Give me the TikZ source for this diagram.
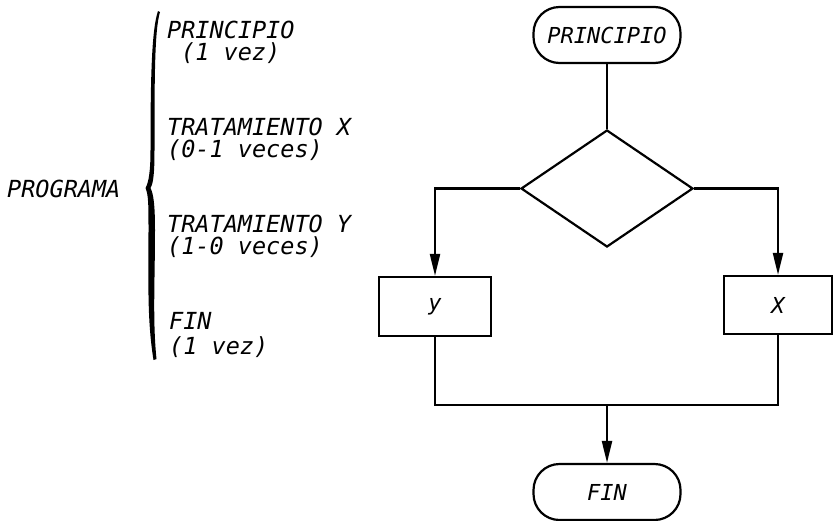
\documentclass[tikz,border=0pt]{standalone}
\usepackage{fontspec}
\newfontfamily\hand{DejaVu Sans Mono}
\usetikzlibrary{shapes.geometric,arrows.meta}
\tikzset{
  lw/.style={line width=2.2pt},
  lefttxt/.style={anchor=base west,inner sep=0pt,text height=16.5pt,text depth=3pt,font=\hand\itshape\fontsize{23.5}{26}\selectfont},
  term/.style={draw,lw,rectangle,rounded corners=26pt,minimum width=147pt,minimum height=56pt,inner sep=0pt,font=\hand\itshape\fontsize{22}{24}\selectfont},
  procbox/.style={draw,lw,rectangle,inner sep=0pt,font=\hand\itshape\fontsize{22}{24}\selectfont},
  decbox/.style={draw,lw,diamond,inner sep=0pt,minimum width=172pt,minimum height=117pt},
  conn/.style={lw},
  arr/.style={lw,-{Triangle[length=22pt,width=10pt]}}
}
\begin{document}
\begin{tikzpicture}[x=1pt,y=-1pt]
\useasboundingbox (0,0) rectangle (835,520);
% left description
\node[lefttxt] (prog) at (7,197) {PROGRAMA};
\fill (158,11) .. controls (151.5,30) and (150.5,80) .. (150.5,150)
  .. controls (150.5,172) and (148.5,183) .. (145.5,188)
  .. controls (148.5,195) and (148.5,205) .. (148.5,230)
  .. controls (148.5,280) and (147,320) .. (153.5,360)
  -- (156.5,359) .. controls (152.5,320) and (155,280) .. (155,230)
  .. controls (155,205) and (153.5,194) .. (150.5,188)
  .. controls (153.5,183) and (154.5,172) .. (154.5,150)
  .. controls (154.5,80) and (154.5,30) .. (160,12) -- cycle;
\node[lefttxt] (t1) at (167,38) {PRINCIPIO};
\node[lefttxt] (t1b) at (181,60) {(1 vez)};
\node[lefttxt] (t2) at (167,135) {TRATAMIENTO X};
\node[lefttxt] (t2b) at (167,157) {(0-1 veces)};
\node[lefttxt] (t3) at (167,232) {TRATAMIENTO Y};
\node[lefttxt] (t3b) at (167,254) {(1-0 veces)};
\node[lefttxt] (t4) at (169,329) {FIN};
\node[lefttxt] (t4b) at (169,354) {(1 vez)};
% flowchart
\node[term] (start) at (607,35) {PRINCIPIO};
\node[decbox] (dec) at (607,188.5) {};
\node[procbox,minimum width=112pt,minimum height=59pt] (ybox) at (435,306.5) {y};
\node[procbox,minimum width=108pt,minimum height=58pt] (xbox) at (778,305) {X};
\node[term] (fin) at (607,492) {FIN};
\coordinate (m) at (607,405);
\draw[conn] (start.south) -- (dec.north);
\draw[arr] (dec.west) -| (ybox.north);
\draw[arr] (dec.east) -| (xbox.north);
\draw[conn] (ybox.south) |- (m) -| (xbox.south);
\draw[arr] (m) -- (fin.north);
\end{tikzpicture}
\end{document}
